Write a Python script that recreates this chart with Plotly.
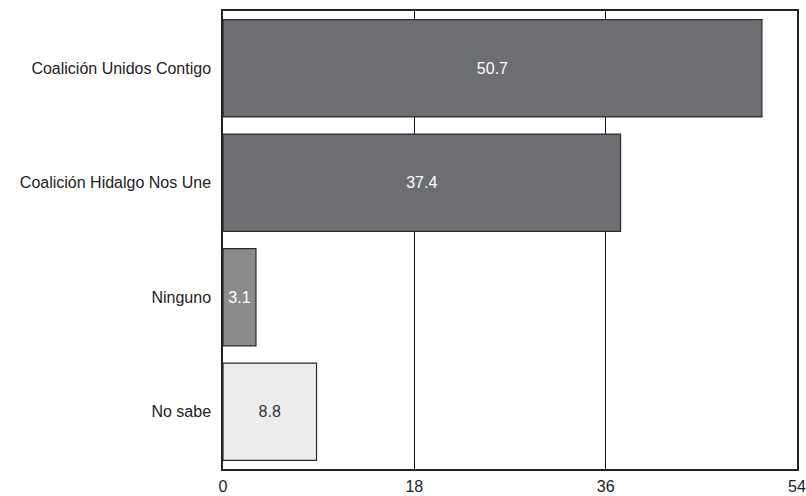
import plotly.graph_objects as go

categories = ["Coalición Unidos Contigo", "Coalición Hidalgo Nos Une", "Ninguno", "No sabe"]
values = [50.7, 37.4, 3.1, 8.8]
value_labels = ["50.7", "37.4", "3.1", "8.8"]
bar_colors = ["#6d6e71", "#6d6e71", "#8b8b8d", "#ececec"]
text_colors = ["#ffffff", "#ffffff", "#ffffff", "#333333"]
x_ticks = [0, 18, 36, 54]

FONT = "Liberation Sans, Arial, sans-serif"

fig = go.Figure()
fig.add_trace(go.Bar(
    y=categories, x=values, orientation="h",
    marker=dict(color=bar_colors, line=dict(color="#2b2b2b", width=1.2)),
    text=value_labels, textposition="inside", insidetextanchor="middle",
    textangle=0, constraintext="none",
    textfont=dict(color=text_colors, size=16, family=FONT),
    hoverinfo="skip",
))

fig.update_layout(
    width=806, height=496,
    margin=dict(l=223, r=9, t=11, b=27),
    paper_bgcolor="white", plot_bgcolor="white",
    bargap=0.15, showlegend=False,
    font=dict(family=FONT, size=16, color="#222222"),
)
fig.update_xaxes(
    range=[0, 54], tickvals=x_ticks, ticktext=[str(t) for t in x_ticks],
    showgrid=True, gridcolor="#111111", gridwidth=1,
    showline=True, linecolor="#222222", linewidth=1.5, mirror=True,
    zeroline=False, ticks="", ticklabelstandoff=2, automargin=False,
    tickfont=dict(size=16, color="#222222"),
)
fig.update_yaxes(
    categoryorder="array", categoryarray=categories[::-1],
    showgrid=False, showline=True, linecolor="#222222", linewidth=1.5, mirror=True,
    ticks="", ticklabelstandoff=7, automargin=False,
    tickfont=dict(size=16, color="#222222"),
)

fig.write_html(
    "out.html",
    config={"displayModeBar": False},
    post_script="document.body.style.margin='0';document.body.style.overflow='hidden';",
)
